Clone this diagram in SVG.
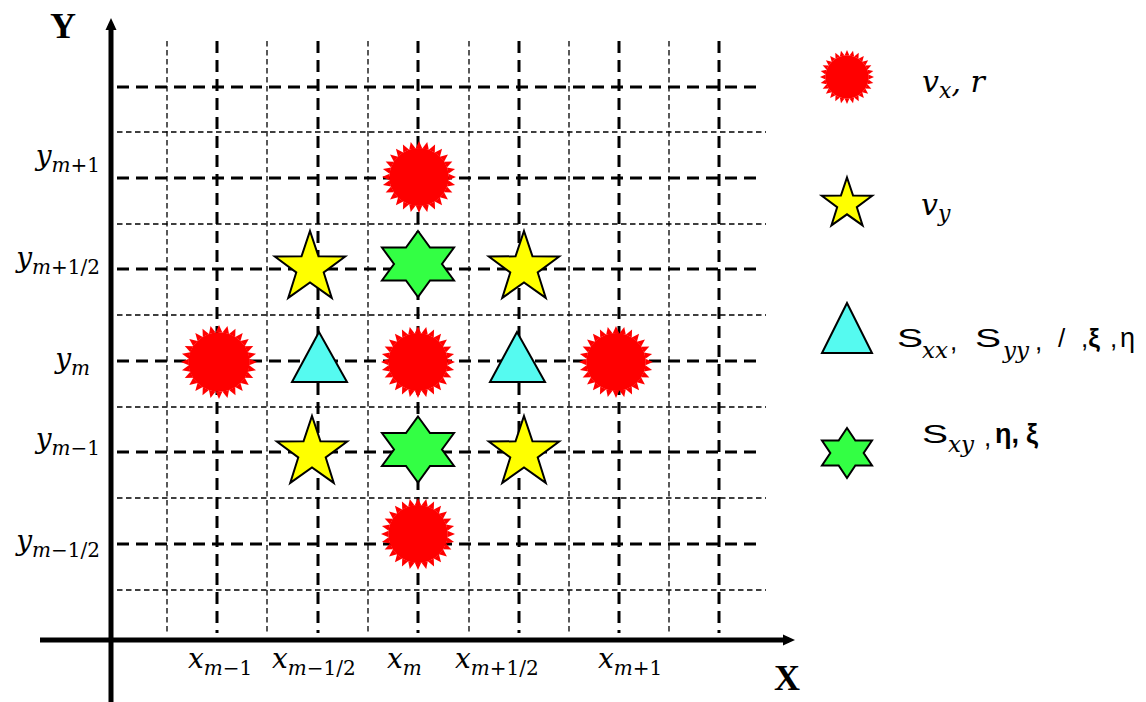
<svg xmlns="http://www.w3.org/2000/svg" xmlns:xlink="http://www.w3.org/1999/xlink" width="1146" height="702" viewBox="0 0 1146 702">
<style>
.gt{stroke:#000;stroke-width:3;stroke-dasharray:12 7;fill:none}
.gn{stroke:#000;stroke-width:1.3;stroke-dasharray:5.5 3.5;fill:none}
.ax{stroke:#000;stroke-width:5;fill:none}
.red{fill:#FF0000}
.star{fill:#FFFF00;stroke:#000;stroke-width:2;stroke-linejoin:miter}
.hex{fill:#33FF44;stroke:#000;stroke-width:2}
.tri{fill:#55FAF0;stroke:#000;stroke-width:2;stroke-linejoin:miter}
.m{font-family:"DejaVu Serif","Liberation Serif",serif;font-style:italic;fill:#000}
.up{font-style:normal}
.ax-l{font-family:"Liberation Serif",serif;font-weight:bold;font-size:36px;fill:#000}
.gs{font-family:"Liberation Sans","DejaVu Sans",sans-serif;fill:#000}
</style>
<defs>
<polygon id="spike" points="0,-1 0.0896,-0.795 -0.0896,-0.795"/>
<g id="burst">
<circle r="0.805"/>
<use xlink:href="#spike" transform="rotate(0)"/><use xlink:href="#spike" transform="rotate(12.857)"/><use xlink:href="#spike" transform="rotate(25.714)"/><use xlink:href="#spike" transform="rotate(38.571)"/><use xlink:href="#spike" transform="rotate(51.429)"/><use xlink:href="#spike" transform="rotate(64.286)"/><use xlink:href="#spike" transform="rotate(77.143)"/><use xlink:href="#spike" transform="rotate(90)"/><use xlink:href="#spike" transform="rotate(102.857)"/><use xlink:href="#spike" transform="rotate(115.714)"/><use xlink:href="#spike" transform="rotate(128.571)"/><use xlink:href="#spike" transform="rotate(141.429)"/><use xlink:href="#spike" transform="rotate(154.286)"/><use xlink:href="#spike" transform="rotate(167.143)"/><use xlink:href="#spike" transform="rotate(180)"/><use xlink:href="#spike" transform="rotate(192.857)"/><use xlink:href="#spike" transform="rotate(205.714)"/><use xlink:href="#spike" transform="rotate(218.571)"/><use xlink:href="#spike" transform="rotate(231.429)"/><use xlink:href="#spike" transform="rotate(244.286)"/><use xlink:href="#spike" transform="rotate(257.143)"/><use xlink:href="#spike" transform="rotate(270)"/><use xlink:href="#spike" transform="rotate(282.857)"/><use xlink:href="#spike" transform="rotate(295.714)"/><use xlink:href="#spike" transform="rotate(308.571)"/><use xlink:href="#spike" transform="rotate(321.429)"/><use xlink:href="#spike" transform="rotate(334.286)"/><use xlink:href="#spike" transform="rotate(347.143)"/>
</g>
<polygon id="star5" vector-effect="non-scaling-stroke" points="0,-1 0.229,-0.316 0.951,-0.309 0.371,0.121 0.588,0.809 0,0.39 -0.588,0.809 -0.371,0.121 -0.951,-0.309 -0.229,-0.316"/>
<polygon id="star6" vector-effect="non-scaling-stroke" points="0,-1 0.289,-0.5 0.866,-0.5 0.577,0 0.866,0.5 0.289,0.5 0,1 -0.289,0.5 -0.866,0.5 -0.577,0 -0.866,-0.5 -0.289,-0.5"/>
<marker id="ah" markerWidth="12" markerHeight="12" refX="6" refY="6" orient="auto" markerUnits="userSpaceOnUse" viewBox="0 0 12 12">
<path d="M0,0.5 L12,6 L0,11.5 Z" fill="#000"/>
</marker>
</defs>

<g id="grid">
<path class="gn" d="M117,132H766M117,224H766M117,315H766M117,407H766M117,498H766M117,590H766"/>
<path class="gn" d="M167,41V633M267,41V633M368,41V633M469,41V633M569,41V633M669,41V633"/>
<path class="gt" d="M117,87H762M117,178H762M117,269H762M117,361H762M117,452H762M117,544H762"/>
<path class="gt" d="M217,41V633M318,41V633M418,41V633M519,41V633M619,41V633M719,41V633"/>
</g>

<g id="axes">
<line class="ax" x1="111" y1="702" x2="111" y2="24" marker-end="url(#ah)"/>
<line class="ax" x1="40" y1="640" x2="789" y2="640" marker-end="url(#ah)"/>
<text class="ax-l" x="50" y="38">Y</text>
<text class="ax-l" x="774" y="690">X</text>
</g>

<g id="y-labels" class="m" font-size="28" text-anchor="end">
<text x="100" y="165">y<tspan font-size="20" dy="7">m</tspan><tspan class="up" font-size="20">+1</tspan></text>
<text x="100" y="267">y<tspan font-size="20" dy="7">m</tspan><tspan class="up" font-size="20">+1/2</tspan></text>
<text x="90" y="368">y<tspan font-size="20" dy="7">m</tspan></text>
<text x="100" y="448">y<tspan font-size="20" dy="7">m</tspan><tspan class="up" font-size="20">−1</tspan></text>
<text x="100" y="550">y<tspan font-size="20" dy="7">m</tspan><tspan class="up" font-size="20">−1/2</tspan></text>
</g>

<g id="x-labels" class="m" font-size="28">
<text x="188" y="668">x<tspan font-size="20" dy="7">m</tspan><tspan class="up" font-size="20">−1</tspan></text>
<text x="272" y="668">x<tspan font-size="20" dy="7">m</tspan><tspan class="up" font-size="20">−1/2</tspan></text>
<text x="387" y="668">x<tspan font-size="20" dy="7">m</tspan></text>
<text x="455" y="668">x<tspan font-size="20" dy="7">m</tspan><tspan class="up" font-size="20">+1/2</tspan></text>
<text x="598" y="668">x<tspan font-size="20" dy="7">m</tspan><tspan class="up" font-size="20">+1</tspan></text>
</g>

<g id="vx-nodes" class="red">
<use xlink:href="#burst" transform="translate(419,177) scale(37,36)"/>
<use xlink:href="#burst" transform="translate(219,362) scale(38,37)"/>
<use xlink:href="#burst" transform="translate(418,362) scale(37,36)"/>
<use xlink:href="#burst" transform="translate(616,362) scale(37,36)"/>
<use xlink:href="#burst" transform="translate(418,534) scale(37,36)"/>
</g>

<g id="vy-nodes" class="star">
<use xlink:href="#star5" transform="translate(310,268) scale(37)"/>
<use xlink:href="#star5" transform="translate(524,268) scale(37)"/>
<use xlink:href="#star5" transform="translate(312,453) scale(37)"/>
<use xlink:href="#star5" transform="translate(524,453) scale(37)"/>
</g>

<g id="sxy-nodes" class="hex">
<use xlink:href="#star6" transform="translate(418,264) scale(41.6,33)"/>
<use xlink:href="#star6" transform="translate(418,449.5) scale(41.6,33)"/>
</g>

<g id="sxx-nodes" class="tri">
<polygon points="319,332 292,382 347,382"/>
<polygon points="517,332 490,382 545,382"/>
</g>

<g id="legend-vx">
<use class="red" xlink:href="#burst" transform="translate(847,77) scale(27)"/>
<text class="m" font-size="30" x="922" y="92">v<tspan font-size="22" dy="6">x</tspan><tspan dy="-6">, </tspan><tspan>r</tspan></text>
</g>

<g id="legend-vy">
<use class="star" xlink:href="#star5" transform="translate(847,204) scale(26.5)"/>
<text class="m" font-size="30" x="921" y="215">v<tspan font-size="22" dy="6">y</tspan></text>
</g>

<g id="legend-sxx">
<polygon class="tri" points="847,303 822,353 872,353"/>
<text class="gs" font-size="26" font-weight="300" transform="translate(897,347) scale(1.5,1)">S</text>
<text class="m" font-size="23" x="922" y="358">xx</text>
<text class="gs" font-size="26" x="950" y="350">,</text>
<text class="gs" font-size="26" font-weight="300" transform="translate(975,347) scale(1.5,1)">S</text>
<text class="m" font-size="23" x="1003" y="358">yy</text>
<text class="gs" font-size="26" x="1035" y="350">,</text>
<text class="gs" font-size="26" x="1058" y="347">/</text>
<text class="gs" font-size="26" x="1081" y="347">,<tspan font-weight="bold">ξ</tspan></text>
<text class="gs" font-size="26" x="1110" y="347">,</text>
<text class="gs" font-size="27" x="1120" y="347">η</text>
</g>

<g id="legend-sxy">
<use class="hex" xlink:href="#star6" transform="translate(847,453) scale(28.9,25)"/>
<text class="gs" font-size="26" font-weight="300" transform="translate(922,443) scale(1.5,1)">S</text>
<text class="m" font-size="23" x="948" y="452">xy</text>
<text class="gs" font-size="26" x="984" y="446">,</text>
<text class="gs" font-size="27" font-weight="bold" x="995" y="443">η,</text>
<text class="gs" font-size="27" font-weight="bold" x="1026" y="443">ξ</text>
</g>
</svg>
